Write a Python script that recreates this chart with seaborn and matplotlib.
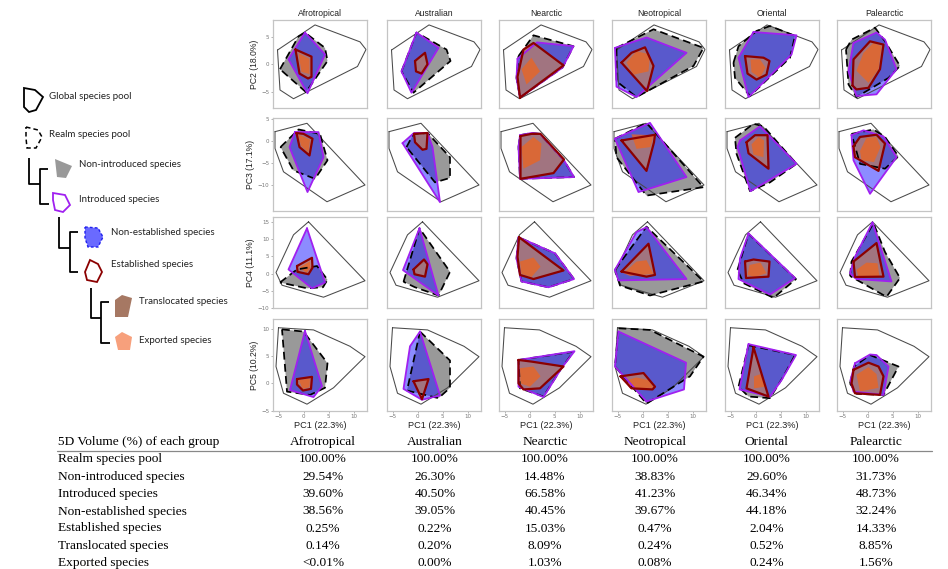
import matplotlib
matplotlib.use("Agg")
import matplotlib.pyplot as plt
import seaborn as sns
import pandas as pd

sns.set_theme(style="white")

realms = ["Afrotropical", "Australian", "Nearctic", "Neotropical", "Oriental", "Palearctic"]
y_labels = ["PC2 (18.0%)", "PC3 (17.1%)", "PC4 (11.1%)", "PC5 (10.2%)"]
x_label = "PC1 (22.3%)"
x_ticks = [-5, 0, 5, 10]
y_ticks = [[-5, 0, 5], [-10, -5, 0, 5], [-10, -5, 0, 5, 10, 15], [-5, 0, 5, 10]]
y_lims = [(-8.0, 8.1), (-15.8, 5.3), (-10.05, 16.5), (-5.05, 11.8)]
x_lim = (-6.1, 12.7)

# global species pool hull, one per PC pair (same for every realm)
global_pool = [
    [(-5.2, 2.6), (2.3, 7.2), (11.3, 4.1), (12.5, 2.7), (10.8, -0.4), (-2.0, -6.3), (-4.7, -4.7)],
    [(-5.7, 2.2), (0.7, 4.1), (12.3, -9.9), (4.7, -13.7), (-4.0, -6.9), (-5.7, -1.6)],
    [(1.0, 15.1), (12.3, -2.1), (4.0, -6.9), (-4.3, -3.4), (-5.5, 0.3), (-2.0, 11.3)],
    [(-5.0, 10.2), (2.0, 9.8), (9.3, 6.8), (12.3, 4.9), (6.0, -0.8), (0.7, -3.8), (-4.0, -1.8), (-5.5, 3.1)],
]

# realm species pool (dashed) / non-introduced (grey), [row][realm]
realm_pool = [
    [[(-4.7, -0.9), (-1.0, 5.1), (0.3, 5.8), (4.3, 3.0), (4.8, 0.6), (0.5, -5.1)],
     [(-3.2, -1.3), (-0.2, 5.8), (5.8, 2.7), (6.6, 0.6), (-0.8, -5.2)],
     [(-2.2, 1.5), (0.8, 5.3), (8.8, 3.3), (6.6, -0.6), (-1.9, -6.1), (-2.6, -2.5)],
     [(-5.2, 3.0), (2.2, 6.4), (12.2, 3.0), (10.2, -0.3), (-1.2, -6.0), (-5.2, -3.1)],
     [(-4.4, 0.3), (-3.4, 3.3), (0.2, 6.1), (2.9, 7.0), (7.9, 5.2), (6.9, 1.2), (-1.1, -5.8), (-4.1, -2.5)],
     [(-4.3, 2.7), (-3.2, 4.5), (1.5, 6.7), (3.5, 4.2), (6.5, -0.3), (4.2, -2.5), (-2.2, -6.0), (-3.8, -3.7)]],
    [[(-4.6, -1.3), (-1.0, 2.7), (3.3, 1.7), (4.8, -4.3), (2.3, -8.5), (-2.0, -6.6)],
     [(-2.2, -1.3), (-0.8, 1.7), (2.0, 1.9), (6.5, -3.6), (6.5, -8.3), (3.5, -9.3)],
     [(-2.2, -1.3), (-1.9, 1.4), (0.4, 1.9), (2.1, 1.7), (6.9, -4.3), (8.9, -8.1), (-1.9, -8.5)],
     [(-5.5, 0.6), (0.8, 4.2), (12.2, -10.4), (0.8, -12.3), (-5.2, -3.6)],
     [(-4.1, 0.8), (-0.4, 4.0), (1.6, 3.4), (8.2, -5.1), (2.9, -9.3), (-1.1, -11.3), (-3.8, -2.8)],
     [(-3.2, 1.7), (1.2, 2.7), (3.5, 1.0), (6.2, -3.4), (3.5, -6.2), (-1.5, -5.1)]],
    [[(-4.7, -2.6), (-1.3, 1.2), (2.7, 2.2), (4.8, -1.8), (3.9, -4.0), (0.7, -4.3)],
     [(-2.8, -2.4), (0.4, 13.2), (6.5, 0.5), (4.2, -6.4), (-0.5, -4.0)],
     [(-2.6, 4.4), (-2.2, 10.6), (5.1, 5.9), (8.9, -1.6), (3.8, -4.0), (-1.6, -2.3)],
     [(-5.5, 1.1), (0.8, 13.7), (12.2, -2.3), (1.5, -6.4), (-4.5, -3.5)],
     [(-3.6, 1.1), (-1.4, 11.6), (8.1, -1.6), (3.6, -7.1), (-2.4, -2.8)],
     [(-3.5, -0.7), (-3.2, 3.5), (1.2, 14.7), (3.5, 6.3), (6.5, -1.3), (3.8, -6.8)]],
    [[(-4.3, 9.9), (0.0, 9.5), (4.8, 3.7), (4.3, -0.8), (1.3, -2.1), (-3.3, -1.5)],
     [(0.5, 9.5), (6.5, 4.2), (6.5, -0.8), (4.2, -2.7), (-2.1, -1.3)],
     [(-2.2, 4.3), (8.8, 5.8), (6.4, 2.8), (2.8, -2.4), (-1.9, -0.9)],
     [(-4.8, 10.1), (1.5, 9.8), (12.2, 4.9), (9.5, 1.3), (0.8, -3.7), (-5.5, 3.1)],
     [(-1.4, 7.0), (7.9, 5.2), (5.6, 1.3), (2.9, -2.7), (-1.4, -2.4), (-3.4, -0.6)],
     [(-3.5, 0.0), (-2.7, 3.1), (0.5, 5.2), (6.2, 3.1), (3.2, -2.1), (-2.2, -1.9)]],
]

# introduced species (purple outline, blue fill)
introduced = [
    [[(0.3, 5.8), (4.3, 1.8), (0.8, -5.3), (-3.0, 0.9)],
     [(-0.2, 5.8), (4.2, 3.0), (-1.2, -5.2), (-3.2, -1.3)],
     [(-2.4, 1.0), (1.5, 4.0), (8.8, 3.3), (6.6, -0.6), (-1.9, -6.1), (-2.6, -2.5)],
     [(-5.5, 3.0), (0.8, 4.9), (8.8, 2.1), (-1.2, -6.0), (-5.2, -4.1)],
     [(-0.4, 5.9), (8.2, 5.3), (7.2, 1.8), (-1.4, -6.0), (-3.4, 1.2)],
     [(-2.8, 3.9), (1.8, 5.8), (3.5, 4.5), (5.8, -0.9), (1.8, -5.5), (-2.2, -5.8), (-3.8, -1.3)]],
    [[(-1.7, 2.1), (3.0, 2.1), (4.0, -3.6), (0.8, -11.5), (-2.8, -1.3)],
     [(-3.0, -0.4), (-0.7, 1.9), (2.0, 1.9), (3.0, -1.3), (4.5, -13.8)],
     [(-1.9, 1.4), (0.4, 1.9), (2.1, 1.7), (6.9, -4.3), (8.9, -8.1), (-1.9, -8.5), (-2.2, -1.3)],
     [(-5.5, 0.6), (1.5, 4.2), (8.8, -8.1), (-0.8, -11.5)],
     [(-3.1, 0.2), (0.9, 3.4), (8.2, -5.1), (-1.0, -11.3), (-3.6, -1.3)],
     [(-3.2, 1.4), (-0.8, 2.5), (3.2, 1.1), (5.8, -3.6), (0.5, -11.9), (-2.8, -4.3)]],
    [[(0.7, 13.2), (4.3, -2.6), (1.7, -4.3), (-3.0, 1.2)],
     [(0.4, 13.2), (4.2, -6.4), (-2.9, 1.0)],
     [(-2.2, 10.6), (5.1, 5.9), (8.9, -1.6), (3.8, -4.0), (-1.6, -2.3), (-2.6, 4.4)],
     [(-5.5, 1.1), (-1.2, 12.1), (0.8, 13.5), (8.8, -1.6), (-4.8, -2.0)],
     [(-1.4, 11.7), (7.9, -1.3), (2.9, -6.1), (-3.4, -1.6), (-3.1, 4.4)],
     [(1.0, 14.9), (4.8, -2.3), (-2.2, -1.6), (-3.5, 0.1), (-2.5, 4.9)]],
    [[(0.3, 9.6), (3.7, -0.5), (2.0, -2.5), (-2.7, -1.2)],
     [(0.5, 9.5), (4.5, -2.2), (0.9, -3.0), (-2.8, -1.0), (-1.5, 6.8)],
     [(-2.2, 4.3), (9.0, 5.9), (6.4, 2.8), (2.8, -2.5), (-2.2, -0.6)],
     [(-4.8, 9.5), (8.7, 3.8), (8.3, -1.1), (0.8, -3.3), (-5.5, 3.1)],
     [(-1.4, 7.2), (8.1, 5.2), (5.2, 0.6), (2.9, -2.4), (-3.2, -1.1)],
     [(-2.5, 3.7), (0.5, 5.3), (1.8, 5.2), (4.2, 3.1), (3.2, -2.1), (-2.8, -1.5), (-3.4, 0.6)]],
]

# established species (dark red outline); translocated fill shares this hull
established = [
    [[(-1.6, 2.7), (1.6, 1.4), (1.6, -2.3), (0.9, -2.6), (-0.8, -1.7)],
     [(-0.5, 0.6), (1.5, 2.1), (2.0, 0.0), (0.8, -1.7), (-0.3, -1.3)],
     [(-1.9, -6.1), (-2.4, -2.3), (-1.2, 2.7), (0.8, 3.9), (6.8, -0.2)],
     [(-4.2, 0.3), (-2.2, 2.1), (0.5, 3.1), (2.2, -0.3), (0.9, -4.9)],
     [(-2.1, 1.5), (1.6, 1.2), (2.8, 0.6), (2.2, -1.9), (0.2, -2.8), (-1.6, -1.7)],
     [(-3.0, -3.9), (-2.8, 0.9), (0.5, 4.2), (3.2, 3.6), (2.5, -0.9), (0.2, -4.3), (-2.2, -4.6)]],
    [[(-1.4, 1.9), (0.0, 1.7), (1.8, 0.6), (1.2, -3.2), (-0.8, -1.3)],
     [(-0.7, 1.7), (2.0, 1.9), (1.8, -1.7), (1.0, -1.9), (-0.5, -0.2)],
     [(-1.8, 1.2), (0.4, 1.7), (2.2, 1.7), (6.9, -4.1), (4.8, -7.2), (-1.8, -8.5)],
     [(-4.2, 0.2), (2.5, 1.5), (2.3, -0.2), (0.8, -6.7)],
     [(-1.8, -0.2), (-0.1, 1.4), (2.4, 1.4), (2.6, -6.2), (-1.4, -2.7)],
     [(-2.8, -1.1), (-1.5, 1.0), (1.8, 1.5), (3.5, -0.5), (2.2, -6.7), (-2.5, -3.6)]],
    [[(-1.3, 2.2), (1.7, 4.6), (1.8, 1.7), (1.0, -0.2), (-1.2, 0.5)],
     [(-0.8, 1.2), (1.3, 4.1), (2.0, 2.7), (1.5, -0.9), (-0.6, -0.2)],
     [(-2.1, 10.6), (6.8, 0.9), (0.8, -1.6), (-1.9, -0.4), (-2.4, 4.9)],
     [(-4.2, 0.6), (1.2, 8.7), (2.5, -0.4), (0.8, -0.9)],
     [(-2.1, 3.5), (-0.4, 4.1), (2.8, 3.5), (2.6, -0.9), (-1.9, -1.3)],
     [(-2.8, 3.5), (1.8, 8.9), (3.2, -0.9), (-2.5, -1.0)]],
    [[(-1.3, 0.8), (1.7, 1.2), (1.5, -1.0), (-0.1, -1.3), (-1.3, -0.2)],
     [(-0.8, 0.4), (2.2, 0.8), (0.9, -2.9)],
     [(-2.2, 4.3), (0.4, 4.0), (6.8, 3.1), (2.1, -0.9), (-1.2, -1.1), (-2.2, 0.0)],
     [(-4.4, 1.3), (0.2, 1.9), (2.5, -0.6), (2.0, -1.1), (-2.2, -0.9)],
     [(-0.4, 6.6), (2.6, -2.4), (-1.8, -0.9)],
     [(-2.8, 2.5), (0.2, 3.8), (2.2, 3.1), (3.2, 1.3), (2.5, -2.1), (-2.5, -1.8), (-3.2, 0.0)]],
]

# exported species (orange fill); none visible for Australian
exported = [
    [[(-1.0, 2.0), (1.2, 1.0), (1.2, -1.8), (-0.4, -1.4)], [],
     [(-1.6, -0.9), (0.4, 1.2), (2.1, -1.3), (-0.6, -3.7)],
     [(-3.2, 0.3), (-1.2, 2.4), (1.5, 1.8), (1.2, -1.3), (-1.8, -1.9)],
     [(-1.0, 0.9), (0.9, 0.9), (2.0, -0.6), (0.9, -2.5), (-0.8, -1.4)],
     [(-2.2, -1.2), (-0.8, 2.1), (1.2, 3.9), (2.8, 3.3), (2.2, -0.9), (0.2, -3.4)]],
    [[(-1.0, 1.5), (1.3, 0.4), (1.0, -2.5), (-0.5, -1.0)], [],
     [(-1.6, -1.3), (0.8, 1.0), (2.4, -0.5), (2.1, -4.3), (-1.2, -6.2)],
     [(-2.2, 1.6), (2.2, 1.4), (1.6, -1.3), (-1.2, -1.7)],
     [(-0.8, -0.7), (0.6, 1.0), (1.7, 0.2), (1.6, -3.6), (-0.4, -3.0)],
     [(-1.5, -2.2), (-0.2, 0.8), (1.8, 1.0), (2.6, -1.3), (1.3, -4.7), (-1.2, -4.3)]],
    [[(-0.8, 1.8), (1.3, 3.6), (1.4, 1.6), (0.6, 0.2)], [],
     [(-1.9, 3.5), (0.8, 4.7), (2.2, 2.0), (0.4, -1.0), (-1.6, -0.1)],
     [(-3.8, 0.1), (-1.2, 3.5), (0.8, 3.9), (2.2, -0.1), (-2.5, -0.7)],
     [(-1.2, 2.5), (1.0, 3.2), (2.2, 0.1), (-0.1, -1.0), (-1.6, -0.4)],
     [(-2.2, 1.1), (-0.2, 3.2), (2.0, 3.0), (2.4, -1.0), (-1.8, -1.0)]],
    [[(-0.9, 0.6), (1.3, 0.9), (1.2, -0.7), (-0.2, -1.0)], [],
     [(-1.9, 2.8), (0.8, 3.1), (2.2, 1.3), (0.1, -0.6), (-1.8, 0.0)],
     [(-3.5, 0.5), (-1.2, 1.1), (1.2, 0.6), (2.2, -0.8), (-2.5, -0.9)],
     [(-0.3, 1.3), (1.0, 1.7), (1.9, -0.6), (-0.3, -0.9)],
     [(-2.2, 1.6), (0.2, 3.0), (1.8, 1.7), (2.2, -0.8), (-1.5, -1.5)]],
]

groups = ["Realm species pool", "Non-introduced species", "Introduced species",
          "Non-established species", "Established species", "Translocated species",
          "Exported species"]
volumes = {
    "Afrotropical": ["100.00%", "29.54%", "39.60%", "38.56%", "0.25%", "0.14%", "<0.01%"],
    "Australian": ["100.00%", "26.30%", "40.50%", "39.05%", "0.22%", "0.20%", "0.00%"],
    "Nearctic": ["100.00%", "14.48%", "66.58%", "40.45%", "15.03%", "8.09%", "1.03%"],
    "Neotropical": ["100.00%", "38.83%", "41.23%", "39.67%", "0.47%", "0.24%", "0.08%"],
    "Oriental": ["100.00%", "29.60%", "46.34%", "44.18%", "2.04%", "0.52%", "0.24%"],
    "Palearctic": ["100.00%", "31.73%", "48.73%", "32.24%", "14.33%", "8.85%", "1.56%"],
}

C_GREY = "#999999"
C_BLUE = "#1a1aff"
C_PURPLE = "#a020f0"
C_RED = "#8b0000"
C_BROWN = "#c08060"
C_ORANGE = "#f26418"
C_SALMON = "#f7a07c"
SANS = ["Liberation Sans", "DejaVu Sans"]
SERIF = ["Liberation Serif", "DejaVu Serif"]

W, H = 948, 569
fig = plt.figure(figsize=(W / 100, H / 100), dpi=100)

# overlay in pixel units for legend + table
over = fig.add_axes([0, 0, 1, 1])
over.set_xlim(0, W)
over.set_ylim(H, 0)
over.axis("off")


def closed(poly):
    return pd.DataFrame(poly + poly[:1], columns=["x", "y"])


lefts = [273, 387, 499, 612, 725, 837]
tops = [20, 118, 217, 319]
heights = [88, 93, 91, 92]
pw = 94

for r in range(4):
    for c, realm in enumerate(realms):
        ax = fig.add_axes([lefts[c] / W, 1 - (tops[r] + heights[r]) / H, pw / W, heights[r] / H])
        g = closed(global_pool[r])
        sns.lineplot(data=g, x="x", y="y", sort=False, estimator=None, ax=ax,
                     color="#4a4a4a", lw=0.75)
        rp = closed(realm_pool[r][c])
        ax.fill(rp.x, rp.y, color=C_GREY, lw=0)
        ax.plot(rp.x, rp.y, color="black", lw=1.25, ls=(0, (4.5, 2.5)))
        ip = closed(introduced[r][c])
        ax.fill(ip.x, ip.y, color=C_BLUE, alpha=0.5, lw=0)
        ax.plot(ip.x, ip.y, color=C_PURPLE, lw=1.3)
        ep = closed(established[r][c])
        ax.fill(ep.x, ep.y, color=C_BROWN, alpha=0.7, lw=0)
        if exported[r][c]:
            xp = closed(exported[r][c])
            ax.fill(xp.x, xp.y, color=C_ORANGE, alpha=0.7, lw=0)
        ax.plot(ep.x, ep.y, color=C_RED, lw=1.6)

        ax.set_xlim(*x_lim)
        ax.set_ylim(*y_lims[r])
        ax.set_xlabel("")
        ax.set_ylabel("")
        for s in ax.spines.values():
            s.set_color("#c4c4c4")
            s.set_linewidth(0.9)
        ax.set_xticks(x_ticks)
        ax.set_yticks(y_ticks[r])
        ax.tick_params(length=1.5, width=0.4, colors="#777777", labelsize=4, pad=1,
                       bottom=(r == 3), left=(c == 0),
                       labelbottom=(r == 3), labelleft=(c == 0))
        if r == 0:
            ax.set_title(realm, fontsize=6.2, family=SANS, color="#222222", pad=3)
        if c == 0:
            ax.set_ylabel(y_labels[r], fontsize=6.2, family=SANS, color="#222222", labelpad=2)
        if r == 3:
            ax.set_xlabel(x_label, fontsize=6.6, family=SANS, color="#222222", labelpad=1)

# ---- legend (tree) ----
leg_font = dict(family=["Lato", "DejaVu Sans"], fontsize=7, color="#222222", va="center", ha="left")
icons = [
    ([(24, 88), (35, 90), (43, 97), (36, 110), (29, 112), (24, 107)], dict(fc="none", ec="black", lw=1.3)),
    ([(26, 127), (38, 130), (42, 137), (36, 148), (27, 148), (26, 138)], dict(fc="none", ec="black", lw=1.1, ls=(0, (3, 2)))),
    ([(55, 159), (72, 166), (66, 178), (57, 177)], dict(fc="#999999", ec="none")),
    ([(53, 193), (65, 195), (70, 205), (63, 212), (55, 210), (53, 200)], dict(fc="none", ec=C_PURPLE, lw=1.3)),
    ([(85, 227), (98, 228), (103, 237), (98, 247), (88, 247), (85, 238)], dict(fc="#6a6aff", ec="#2020ee", lw=1, ls=(0, (2, 1.5)))),
    ([(90, 260), (98, 264), (102, 272), (97, 282), (87, 280), (85, 272)], dict(fc="none", ec=C_RED, lw=1.3)),
    ([(115, 300), (122, 295), (132, 298), (128, 317), (115, 317)], dict(fc="#a67863", ec="none")),
    ([(115, 337), (122, 332), (132, 337), (130, 350), (118, 350)], dict(fc=C_SALMON, ec="none")),
]
for pts, kw in icons:
    over.add_patch(plt.Polygon(pts, closed=True, **kw))

legend_labels = [("Global species pool", 49, 96), ("Realm species pool", 49, 134),
                 ("Non-introduced species", 79, 164), ("Introduced species", 79, 199),
                 ("Non-established species", 111, 232), ("Established species", 111, 264),
                 ("Translocated species", 139, 301), ("Exported species", 139, 340)]
for txt, x, y in legend_labels:
    over.text(x, y, txt, **leg_font)

tree = [
    [(29, 158), (29, 184), (40, 184)], [(48, 169), (40, 169), (40, 204), (49, 204)],
    [(59, 217), (59, 248), (70, 248)], [(78, 232), (70, 232), (70, 272), (78, 272)],
    [(91, 288), (91, 318), (101, 318)], [(109, 302), (101, 302), (101, 343), (110, 343)],
]
for seg in tree:
    xs, ys = zip(*seg)
    over.plot(xs, ys, color="black", lw=1.3, solid_capstyle="butt")

# ---- table ----
col_x = [323, 435, 545, 655, 767, 876]
row_y = [459, 476.5, 494, 511.5, 528.5, 546, 563]
tab_font = dict(family=SERIF, fontsize=9.6, color="black", va="center")
over.text(58, 442, "5D Volume (%) of each group", ha="left", **tab_font)
for cx, realm in zip(col_x, realms):
    over.text(cx, 442, realm, ha="center", **tab_font)
over.plot([57, 932], [451, 451], color="#888888", lw=0.9)
for i, grp in enumerate(groups):
    over.text(58, row_y[i], grp, ha="left", **tab_font)
    for cx, realm in zip(col_x, realms):
        over.text(cx, row_y[i], volumes[realm][i], ha="center", **tab_font)

fig.savefig("out.png", dpi=100)
